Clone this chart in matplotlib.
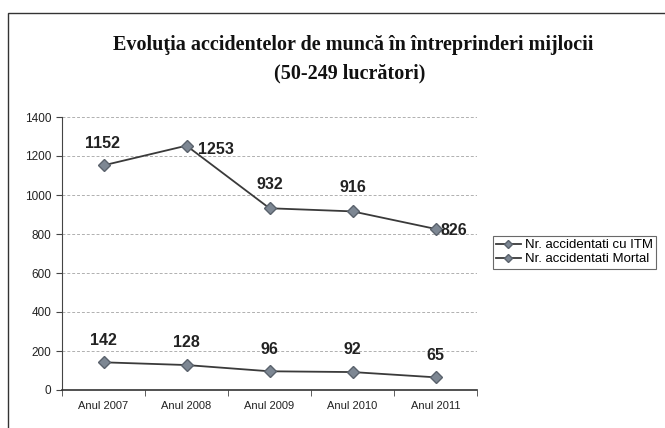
import matplotlib.pyplot as plt
from matplotlib.patches import Rectangle

years = ['Anul 2007', 'Anul 2008', 'Anul 2009', 'Anul 2010', 'Anul 2011']
itm = [1152, 1253, 932, 916, 826]
mortal = [142, 128, 96, 92, 65]
series_names = ['Nr. accidentati cu ITM', 'Nr. accidentati Mortal']

fig = plt.figure(figsize=(6.65, 4.28), dpi=100)
fig.patch.set_facecolor('white')

# outer chart frame (cut off on the right and bottom)
fig.patches.append(Rectangle((8 / 665, -0.05), 1.1, 1 - 13 / 428 + 0.05,
                             transform=fig.transFigure, fill=False,
                             edgecolor='#333333', linewidth=1.0))

ax = fig.add_axes([62 / 665, 1 - 390 / 428, 415 / 665, 273 / 428])
x = list(range(len(years)))

l1, = ax.plot(x, itm, color='#3a3a3a', linewidth=1.3, marker='D', markersize=6.5,
              markerfacecolor='#7d8793', markeredgecolor='#5a626c')
l2, = ax.plot(x, mortal, color='#3a3a3a', linewidth=1.3, marker='D', markersize=6.5,
              markerfacecolor='#7d8793', markeredgecolor='#5a626c')

ax.set_xlim(-0.5, len(years) - 0.5)
ax.set_ylim(0, 1400)
ax.set_yticks(range(0, 1401, 200))
ax.set_xticks(x)
ax.set_xticklabels(years, fontsize=8, family='Liberation Sans', color='#222222')
ax.tick_params(axis='x', length=0, pad=8)
ax.set_xticks([i - 0.5 for i in range(len(years) + 1)], minor=True)
ax.tick_params(axis='x', which='minor', length=4, direction='out', color='#444444')
ax.tick_params(axis='y', labelsize=8.5, length=4, direction='out', color='#444444',
               labelcolor='#222222')
for lab in ax.get_yticklabels():
    lab.set_family('Liberation Sans')

ax.grid(axis='y', color='#b0b0b0', linestyle=(0, (3, 2)), linewidth=0.7)
ax.set_axisbelow(True)
for s in ['top', 'right']:
    ax.spines[s].set_visible(False)
ax.spines['left'].set_color('#444444')
ax.spines['bottom'].set_color('#333333')
ax.spines['bottom'].set_linewidth(1.2)

lab_kw = dict(textcoords='offset points', ha='center', va='center',
              fontsize=11.5, fontweight='bold', family='Liberation Sans', color='#222222')
itm_offsets = [(-1, 16), (21, -3), (0, 17), (0, 17), (13, -1)]
for i, v in enumerate(itm):
    ax.annotate(str(v), (x[i], v), xytext=itm_offsets[i], **lab_kw)
for i, v in enumerate(mortal):
    ax.annotate(str(v), (x[i], v), xytext=(0, 16), **lab_kw)

fig.text(353 / 665, 1 - 45 / 428,
         'Evoluţia accidentelor de muncă în întreprinderi mijlocii',
         ha='center', va='center', fontsize=14.5, fontweight='bold',
         family='Liberation Serif', color='#111111')
fig.text(350 / 665, 1 - 73 / 428, '(50-249 lucrători)',
         ha='center', va='center', fontsize=14.5, fontweight='bold',
         family='Liberation Serif', color='#111111')

leg = fig.legend([l1, l2], series_names, loc='upper left',
                 bbox_to_anchor=(486 / 665, 1 - 229 / 428),
                 prop={'family': 'Liberation Sans', 'size': 9.5},
                 frameon=True, fancybox=False, edgecolor='#444444',
                 handlelength=1.9, markerscale=0.6, borderpad=0.25,
                 labelspacing=0.15, handletextpad=0.3)
leg.get_frame().set_linewidth(0.8)

fig.savefig('out.png', dpi=100)
plt.close()
